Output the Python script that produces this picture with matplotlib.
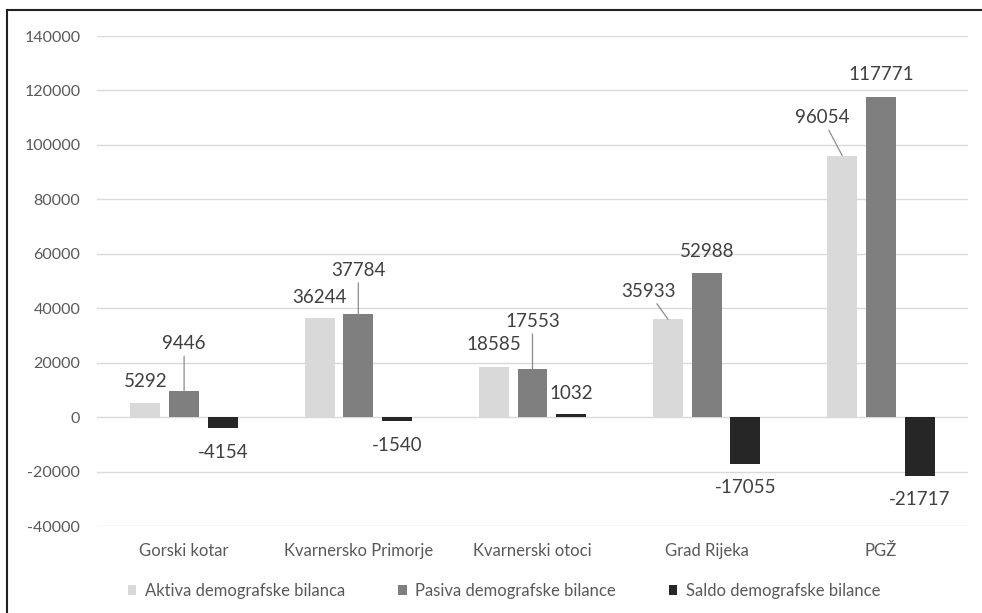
import numpy as np
import matplotlib.pyplot as plt
from matplotlib.lines import Line2D

categories = ['Gorski kotar', 'Kvarnersko Primorje', 'Kvarnerski otoci', 'Grad Rijeka', 'PGŽ']
aktiva = [5292, 36244, 18585, 35933, 96054]
pasiva = [9446, 37784, 17553, 52988, 117771]
saldo = [-4154, -1540, 1032, -17055, -21717]
series_names = ['Aktiva demografske bilanca', 'Pasiva demografske bilance', 'Saldo demografske bilance']
y_ticks = list(range(-40000, 140001, 20000))

colors = ['#d9d9d9', '#7f7f7f', '#262626']
label_color = '#404040'
plt.rcParams['font.family'] = ['Lato', 'DejaVu Sans']

# label offsets in pixels (dx, dy) from the bar end; leader line if True
offsets = [
    [(0, 21, False), (0, 21, False), (0, 22, False), (-20, 28, True), (-20, 38, True)],
    [(0, 48, True), (0, 44, True), (0, 48, True), (0, 21, False), (0, 22, False)],
    [(0, -24, False), (0, -24, False), (0, 21, False), (0, -24, False), (0, -23, False)],
]

fig = plt.figure(figsize=(9.82, 6.13), dpi=100)
ax = fig.add_axes([97 / 982, 1 - 526 / 613, (968 - 97) / 982, (526 - 36) / 613])

x = np.arange(len(categories))
step = 0.222
width = 0.172
for k, values in enumerate([aktiva, pasiva, saldo]):
    xs = x + (k - 1) * step
    ax.bar(xs, values, width, color=colors[k], label=series_names[k], zorder=2)
    for i, v in enumerate(values):
        dx, dy, line = offsets[k][i]
        props = None
        if line:
            props = dict(arrowstyle='-', color='#8c8c8c', lw=0.9, shrinkA=1, shrinkB=0)
        ax.annotate(str(v), xy=(xs[i], v), xytext=(dx, dy), textcoords='offset pixels',
                    ha='center', va='center', fontsize=13.5, color=label_color,
                    arrowprops=props)

ax.set_xlim(-0.5, len(categories) - 0.5)
ax.set_ylim(-40000, 140000)
ax.set_yticks(y_ticks)
ax.set_yticklabels([str(t) for t in y_ticks])
ax.set_xticks(x)
ax.set_xticklabels(categories)
ax.yaxis.grid(True, color='#d9d9d9', linewidth=1, zorder=0)
ax.set_axisbelow(True)
ax.tick_params(axis='both', length=0, colors='#595959')
ax.tick_params(axis='y', pad=12, labelsize=11.5)
ax.tick_params(axis='x', pad=12, labelsize=12)
for spine in ax.spines.values():
    spine.set_visible(False)

fig.legend(loc='center', bbox_to_anchor=(504 / 982, 1 - 591 / 613), ncol=3, frameon=False,
           handlelength=0.5, handleheight=0.5, handletextpad=0.5, columnspacing=3.2,
           fontsize=12, labelcolor='#595959')

# outer frame
fig.add_artist(Line2D([7 / 982, 7 / 982], [0, 1 - 10 / 613], color='#222222', lw=1.5))
fig.add_artist(Line2D([7 / 982, 1], [1 - 10 / 613, 1 - 10 / 613], color='#222222', lw=1.5))

plt.savefig('out.png')
